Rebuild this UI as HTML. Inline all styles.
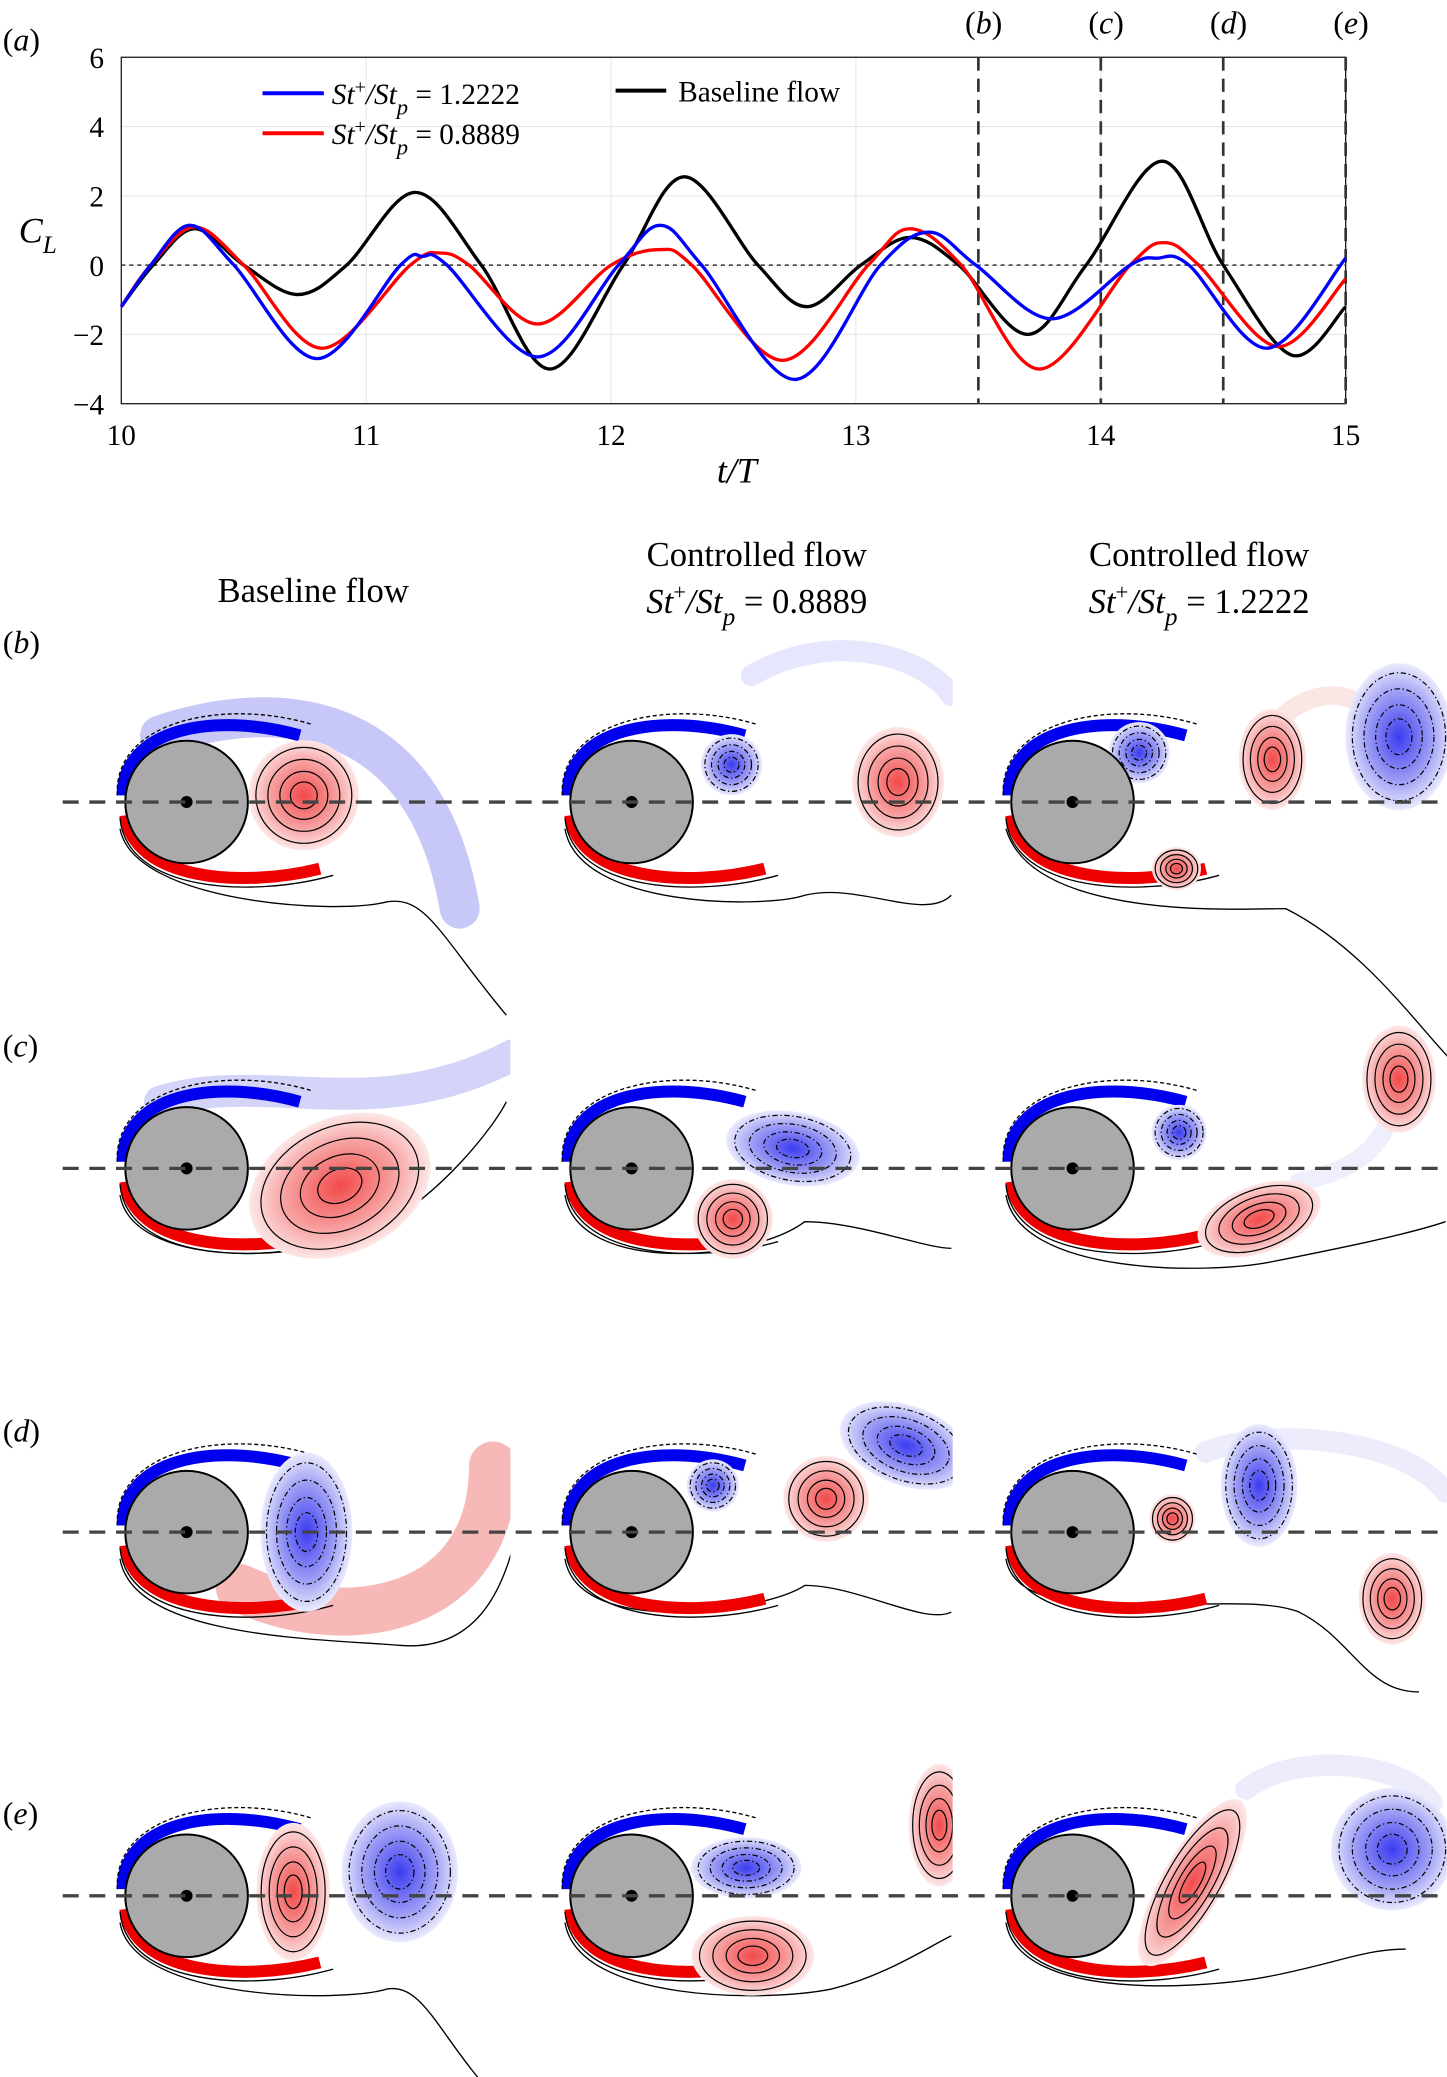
<!DOCTYPE html>
<html><head><meta charset="utf-8"><style>
html,body{margin:0;padding:0;background:#fff;}
svg{display:block;}
text{font-family:"Liberation Serif",serif;}
</style></head><body>
<svg id="fig" width="1447" height="2077" viewBox="0 0 1086 1559" xmlns="http://www.w3.org/2000/svg">
<defs>
<radialGradient id="gRed"><stop offset="0" stop-color="#f24a4a"/><stop offset="0.6" stop-color="#f7a0a0"/><stop offset="1" stop-color="#fde8e8"/></radialGradient>
<radialGradient id="gBlue"><stop offset="0" stop-color="#3c3cf0"/><stop offset="0.6" stop-color="#9c9cf5"/><stop offset="1" stop-color="#ebebfd"/></radialGradient>
<clipPath id="c0"><rect x="40" y="460" width="343" height="1100"/></clipPath>
<clipPath id="c1"><rect x="383" y="460" width="332" height="1100"/></clipPath>
<clipPath id="c2"><rect x="715" y="460" width="371" height="1100"/></clipPath>
</defs>
<g id="chart"></g>
<g id="flows"></g>
</svg>
<script>
// ---- chart data ----
const tBlack=[10,10.13,10.3,10.5,10.72,10.92,11.2,11.47,11.75,12.05,12.3,12.6,12.8,13.02,13.22,13.42,13.7,13.94,14.25,14.5,14.78,15];
const vBlack=[-1.2,0,1.05,0,-0.85,0,2.1,0,-3.0,0,2.55,0,-1.2,0,0.8,0,-2.0,0,3.0,0,-2.6,-1.2];
const tBlue=[10,10.12,10.28,10.46,10.8,11.14,11.23,11.33,11.7,12.03,12.2,12.37,12.75,13.1,13.3,13.49,13.8,14.12,14.23,14.36,14.68,15];
const vBlue=[-1.2,0,1.15,0,-2.7,0,0.25,0,-2.65,0,1.15,0,-3.3,0,0.95,0,-1.55,0,0.2,0,-2.4,0.2];
const tRed=[10,10.12,10.3,10.5,10.82,11.18,11.3,11.42,11.7,12.0,12.2,12.33,12.7,13.05,13.22,13.43,13.75,14.12,14.26,14.4,14.72,15];
const vRed=[-1.2,0,1.1,0,-2.4,0,0.35,0,-1.7,0,0.45,0,-2.75,0,1.05,0,-3.0,0,0.65,0,-2.35,-0.4];
const xTicks=[10,11,12,13,14,15];
const yTicks=[-4,-2,0,2,4,6];
const markTimes=[13.5,14,14.5,15];
const markLabels=['b','c','d','e'];

const NS='http://www.w3.org/2000/svg';
function mk(tag,attrs,parent){const e=document.createElementNS(NS,tag);for(const k in attrs)e.setAttribute(k,attrs[k]);parent.appendChild(e);return e;}
const chart=document.getElementById('chart');
const X0=91,X1=1010,Y0=303,Y1=43;
const xs=t=>X0+(t-10)/5*(X1-X0);
const ys=v=>Y0+(v+4)/10*(Y1-Y0);

xTicks.forEach(t=>{
  const g=mk('line',{x1:xs(t),x2:xs(t),y1:Y1,y2:Y0,stroke:'#e6e6e6','stroke-width':0.8},chart);
  
  const tx=mk('text',{x:xs(t),y:334,'font-size':22,'text-anchor':'middle'},chart);tx.textContent=t;
  
});
yTicks.forEach(v=>{
  const g=mk('line',{x1:X0,x2:X1,y1:ys(v),y2:ys(v),stroke:'#e6e6e6','stroke-width':0.8},chart);
  
  const tx=mk('text',{x:78,y:ys(v)+8,'font-size':22,'text-anchor':'end'},chart);tx.textContent=v<0?'\u2212'+(-v):v;
  
});
const ax=mk('rect',{x:X0,y:Y1,width:X1-X0,height:Y0-Y1,fill:'none',stroke:'#222','stroke-width':1},chart);

const z=mk('line',{x1:X0,x2:X1,y1:ys(0),y2:ys(0),stroke:'#333','stroke-width':1.2,'stroke-dasharray':'3,3'},chart);

markTimes.forEach((t,i)=>{
  const l=mk('line',{x1:xs(t),x2:xs(t),y1:Y1,y2:Y0,stroke:'#333','stroke-width':2,'stroke-dasharray':'10,6'},chart);
  
  const tx=mk('text',{x:xs(t)+4,y:25,'font-size':24,'text-anchor':'middle'},chart);
  tx.innerHTML='(<tspan font-style="italic">'+markLabels[i]+'</tspan>)';
  
});
function curve(ts,vs){
  const p=ts.map((t,i)=>[xs(t),ys(vs[i])]);
  let d='M'+p[0][0]+','+p[0][1];
  for(let i=0;i<p.length-1;i++){
    const a=p[Math.max(0,i-1)],b=p[i],c=p[i+1],e=p[Math.min(p.length-1,i+2)];
    const c1=[b[0]+(c[0]-a[0])/6,b[1]+(c[1]-a[1])/6],c2=[c[0]-(e[0]-b[0])/6,c[1]-(e[1]-b[1])/6];
    d+=' C'+c1+' '+c2+' '+c;
  }
  return d;
}
const sb=mk('path',{d:curve(tBlack,vBlack),fill:'none',stroke:'#000','stroke-width':2.5},chart);

const sr=mk('path',{d:curve(tRed,vRed),fill:'none',stroke:'#f00','stroke-width':2.5},chart);

const sbl=mk('path',{d:curve(tBlue,vBlue),fill:'none',stroke:'#00f','stroke-width':2.5},chart);

// legend
const lg=mk('g',{},chart);
mk('line',{x1:197,x2:243,y1:70,y2:70,stroke:'#00f','stroke-width':3},lg);
mk('line',{x1:197,x2:243,y1:100,y2:100,stroke:'#f00','stroke-width':3},lg);
mk('line',{x1:462,x2:500,y1:68,y2:68,stroke:'#000','stroke-width':3},lg);
const l1=mk('text',{x:249,y:78,'font-size':22},lg);l1.innerHTML='<tspan font-style="italic">St</tspan><tspan dy="-8" font-size="15">+</tspan><tspan dy="8" font-style="italic">/St</tspan><tspan dy="8" font-size="17" font-style="italic">p</tspan><tspan dy="-8"> = 1.2222</tspan>';
const l2=mk('text',{x:249,y:108,'font-size':22},lg);l2.innerHTML='<tspan font-style="italic">St</tspan><tspan dy="-8" font-size="15">+</tspan><tspan dy="8" font-style="italic">/St</tspan><tspan dy="8" font-size="17" font-style="italic">p</tspan><tspan dy="-8"> = 0.8889</tspan>';
const l3=mk('text',{x:509,y:76,'font-size':22},lg);l3.textContent='Baseline flow';
const ya=mk('text',{x:14,y:182,'font-size':27,'font-style':'italic'},chart);ya.innerHTML='C<tspan dy="8" font-size="19">L</tspan>';

const xa=mk('text',{x:553,y:362,'font-size':27,'font-style':'italic','text-anchor':'middle'},chart);xa.textContent='t/T';

const pa=mk('text',{x:2,y:38,'font-size':24},chart);pa.innerHTML='(<tspan font-style="italic">a</tspan>)';


// ---- flow panels ----
const flows=document.getElementById('flows');
[['Baseline flow',235,452,null],['Controlled flow',568,425,'0.8889'],['Controlled flow',900,425,'1.2222']].forEach(h=>{
  const t=mk('text',{x:h[1],y:h[2],'font-size':26,'text-anchor':'middle'},flows);t.textContent=h[0];
  
  if(h[3]){const s=mk('text',{x:h[1],y:h[2]+35,'font-size':26,'text-anchor':'middle'},flows);
    s.innerHTML='<tspan font-style="italic">St</tspan><tspan dy="-10" font-size="17">+</tspan><tspan dy="10" font-style="italic">/St</tspan><tspan dy="9" font-size="19" font-style="italic">p</tspan><tspan dy="-9"> = '+h[3]+'</tspan>';
    }
});
const rowsY=[602,877,1150,1423],rowLab=['b','c','d','e'],labY=[490,793,1082,1369];
const colsX=[140,474,805];
rowLab.forEach((r,i)=>{
  const t=mk('text',{x:2,y:labY[i],'font-size':24},flows);t.innerHTML='(<tspan font-style="italic">'+r+'</tspan>)';
  
});
const P={
 '0,0':[['t','M-20,-50 C70,-80 180,-70 205,80','#c8c8f8',30],['v',88,-5,36,36,0,'r'],['c','M-50,20 C-40,75 110,85 150,75 C180,70 190,100 240,160']],
 '0,1':[['t','M90,-95 C150,-130 220,-110 240,-80','#e6e6fc',16],['v',75,-28,20,20,0,'b'],['v',200,-15,30,36,0,'r'],['c','M-50,20 C-40,80 100,80 130,70 C170,60 220,90 240,70']],
 '0,2':[['t','M140,-40 C160,-80 200,-90 220,-70','#fbe6e6',14],['v',50,-37,20,20,0,'b'],['v',78,50,16,14,0,'r'],['v',150,-32,22,33,0,'r'],['v',245,-49,35,48,0,'b'],['c','M-50,20 C-30,90 130,80 160,80 C220,110 260,170 290,200']],
 '1,0':[['t','M-20,-50 C60,-75 140,-30 245,-85','#d4d4f9',24],['v',115,13,62,44,-25,'r'],['c','M-50,20 C-40,80 110,70 150,40 C190,20 230,-30 240,-50']],
 '1,1':[['v',121,-15,44,24,10,'b'],['v',76,38,26,26,0,'r'],['c','M-50,20 C-40,80 90,70 130,40 C170,40 220,60 240,60']],
 '1,2':[['v',80,-27,18,18,0,'b'],['v',140,38,42,22,-20,'r'],['v',245,-67,24,35,0,'r'],['t','M170,10 C220,0 230,-20 240,-40','#eeeefc',14],['c','M-50,20 C-40,80 100,80 150,70 C200,60 250,50 280,40']],
 '2,0':[['v',90,0,30,52,0,'b'],['t','M40,42 C120,80 230,60 230,-50','#f7b8b8',36],['c','M-50,20 C-40,80 100,80 160,85 C220,90 240,40 250,-10']],
 '2,1':[['v',61,-35,17,17,0,'b'],['v',146,-25,28,28,0,'r'],['v',206,-65,45,26,20,'b'],['c','M-50,20 C-40,80 100,60 130,40 C170,40 220,70 240,60']],
 '2,2':[['v',75,-10,15,16,0,'r'],['v',140,-35,25,40,0,'b'],['v',240,50,22,30,0,'r'],['t','M100,-60 C150,-80 250,-70 280,-30','#ececfc',16],['c','M-50,20 C-40,80 120,40 170,60 C210,80 220,120 260,120']],
 '3,0':[['v',160,-18,38,46,0,'b'],['v',80,-3,24,45,0,'r'],['c','M-50,20 C-40,80 120,80 150,70 C180,65 190,110 240,160']],
 '3,1':[['v',86,-21,36,20,0,'b'],['v',91,45,40,26,0,'r'],['v',231,-53,20,40,0,'r'],['c','M-50,20 C-40,80 100,80 150,70 C190,60 220,40 240,30']],
 '3,2':[['v',90,-10,20,62,30,'r'],['v',240,-35,40,40,0,'b'],['t','M130,-80 C170,-110 250,-100 270,-70','#ececfc',16],['c','M-50,20 C-40,80 100,70 150,60 C200,50 220,40 250,40']]
};
function vortex(g,cx,cy,rx,ry,rot,col){
  const blue=col==='b';
  const gg=mk('g',{transform:'translate('+cx+','+cy+') rotate('+rot+')'},g);
  
  mk('ellipse',{cx:0,cy:0,rx:rx*1.15,ry:ry*1.15,fill:'url(#'+(blue?'gBlue':'gRed')+')'},gg);
  for(const f of [1,0.75,0.5,0.28]){
    mk('ellipse',{cx:0,cy:0,rx:rx*f,ry:ry*f,fill:'none',stroke:'#000','stroke-width':0.9,'stroke-dasharray':blue?'4,2,1,2':'none'},gg);
  }
}
rowsY.forEach((cy,ri)=>{
  colsX.forEach((cx,ci)=>{
    const g=mk('g',{'clip-path':'url(#c'+ci+')'},flows);
    
    const items=P[ri+','+ci];
    const outer=mk('g',{transform:'translate('+cx+','+cy+')'},g);
    items.filter(b=>b[0]==='t').forEach(b=>mk('path',{d:b[1],fill:'none',stroke:b[2],'stroke-width':b[3],'stroke-linecap':'round'},outer));
    items.filter(b=>b[0]==='c').forEach(b=>mk('path',{d:b[1],fill:'none',stroke:'#000','stroke-width':1},outer));
    mk('path',{d:'M-48,-5 C-48,-55 20,-68 85,-50',fill:'none',stroke:'#0000ee','stroke-width':9},outer);
    mk('path',{d:'M-46,10 C-40,58 40,65 100,50',fill:'none',stroke:'#ee0000','stroke-width':9},outer);
    mk('path',{d:'M-52,-5 C-55,-62 30,-78 95,-58',fill:'none',stroke:'#000','stroke-width':1,'stroke-dasharray':'3,2'},outer);
    mk('path',{d:'M-50,12 C-45,68 50,72 110,55',fill:'none',stroke:'#000','stroke-width':1},outer);
    items.filter(b=>b[0]==='v').forEach(b=>vortex(outer,b[1],b[2],b[3],b[4],b[5],b[6]));
    const c=mk('circle',{cx:0,cy:0,r:46,fill:'#aaaaaa',stroke:'#000','stroke-width':1.5},outer);
    
    mk('circle',{cx:0,cy:0,r:4.5,fill:'#000'},outer);
  });
  const dl=mk('line',{x1:47,x2:1086,y1:cy,y2:cy,stroke:'#444','stroke-width':2.5,'stroke-dasharray':'12,8'},flows);
  
});
</script>
</body></html>
